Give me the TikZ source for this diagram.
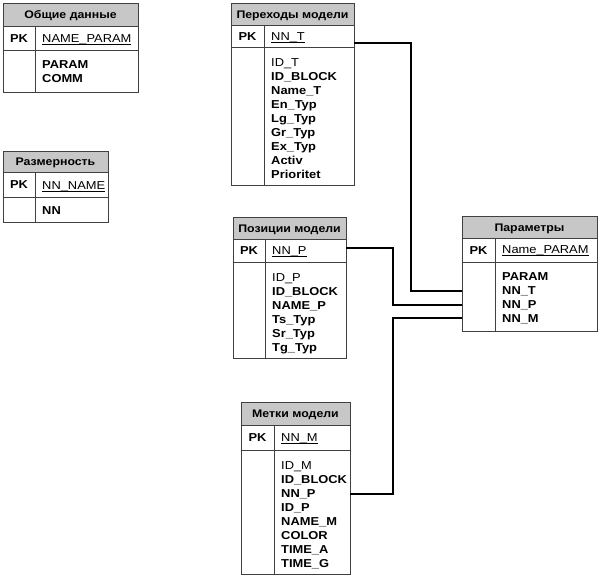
\documentclass[tikz,border=0pt]{standalone}
\usepackage{fontspec}
\setmainfont{Liberation Sans}[FakeStretch=1.12]
\usepackage{tikz}

% key field: text with the line under it
\newcommand{\keytext}[1]{\setbox0\hbox{#1}\rlap{\rule[-2.2pt]{\wd0}{0.7pt}}\box0}

% table frame: name, left, top, right, bottom, divider, header bottom, key bottom, title
\newcommand{\entity}[9]{%
	\fill[headfill] (#2,#3) rectangle (#4,#7);
	\draw[frame] (#2,#3) rectangle (#4,#5);
	\draw[frame] (#2,#7) -- (#4,#7) (#2,#8) -- (#4,#8) (#6,#7) -- (#6,#5);
	\node[title] (#1) at ({(#2+#4)/2},{(#3+#7)/2+4}) {#9};
	\node[pk] (#1-pk) at ({(#2+#6)/2},{(#7+#8)/2+4}) {PK};
}

\begin{document}
\begin{tikzpicture}[x=1pt, y=-1pt,
	headfill/.style={fill=black!22},
	frame/.style={draw=black!75, line width=0.9pt},
	title/.style={font=\fontsize{11}{13}\selectfont\bfseries, anchor=base, inner sep=0pt},
	pk/.style={font=\fontsize{11.5}{14}\selectfont\bfseries, anchor=base, inner sep=0pt},
	keyattr/.style={font=\fontsize{11.5}{14}\selectfont, anchor=base west, inner sep=0pt},
	optattr/.style={keyattr},
	attr/.style={font=\fontsize{11.5}{14}\selectfont\bfseries, anchor=base west, inner sep=0pt},
	link/.style={line width=1.2pt, draw=black}]
	\useasboundingbox (0,0) rectangle (599,576);
	
	% Общие данные
	\entity{obsh}{3}{3}{138}{92}{35}{26}{50}{Общие данные}
	\node[keyattr] (obsh-key) at (42,42) {\keytext{NAME\_PARAM}};
	\node[attr] (obsh-a1) at (42,68) {PARAM};
	\node[attr] (obsh-a2) at (42,82) {COMM};
	
	% Размерность
	\entity{razm}{3}{151}{108}{222}{35}{172}{197}{Размерность}
	\node[keyattr] (razm-key) at (42,189) {\keytext{NN\_NAME}};
	\node[attr] (razm-a1) at (42,214) {NN};
	
	% Переходы модели
	\entity{per}{231}{3}{354}{185}{264}{25}{47}{Переходы модели}
	\node[keyattr] (per-key) at (271,40) {\keytext{NN\_T}};
	\node[optattr] (per-a0) at (271,66) {ID\_T};
	\foreach \a [count=\i] in {ID\_BLOCK, Name\_T, En\_Typ, Lg\_Typ, Gr\_Typ, Ex\_Typ, Activ, Prioritet}
		\node[attr] (per-a\i) at (271,{66+14*\i}) {\a};
	
	% Позиции модели
	\entity{poz}{233}{217}{346}{358}{265}{239}{262}{Позиции модели}
	\node[keyattr] (poz-key) at (272,254) {\keytext{NN\_P}};
	\node[optattr] (poz-a0) at (272,281) {ID\_P};
	\foreach \a [count=\i] in {ID\_BLOCK, NAME\_P, Ts\_Typ, Sr\_Typ, Tg\_Typ}
		\node[attr] (poz-a\i) at (272,{281+14*\i}) {\a};
	
	% Метки модели
	\entity{met}{241}{402}{350}{574}{274}{425}{450}{Метки модели}
	\node[keyattr] (met-key) at (281,441) {\keytext{NN\_M}};
	\node[optattr] (met-a0) at (281,469) {ID\_M};
	\foreach \a [count=\i] in {ID\_BLOCK, NN\_P, ID\_P, NAME\_M, COLOR, TIME\_A, TIME\_G}
		\node[attr] (met-a\i) at (281,{469+14*\i}) {\a};
	
	% Параметры
	\entity{par}{462}{216}{597}{331}{495}{238}{262}{Параметры}
	\node[keyattr] (par-key) at (502,253) {\keytext{Name\_PARAM}};
	\node[attr] (par-a1) at (502,280) {PARAM};
	\node[attr] (par-a2) at (502,294) {NN\_T};
	\node[attr] (par-a3) at (502,308) {NN\_P};
	\node[attr] (par-a4) at (502,322) {NN\_M};
	
	% connectors
	\coordinate (per-out) at (354,43);
	\coordinate (poz-out) at (346,248);
	\coordinate (met-out) at (350,494);
	\coordinate (par-int) at (462,291);
	\coordinate (par-inp) at (462,305);
	\coordinate (par-inm) at (462,318);
	\draw[link] (per-out) -- ++(57,0) |- (par-int);
	\draw[link] (poz-out) -- ++(47,0) |- (par-inp);
	\draw[link] (met-out) -- ++(43,0) |- (par-inm);
\end{tikzpicture}
\end{document}
